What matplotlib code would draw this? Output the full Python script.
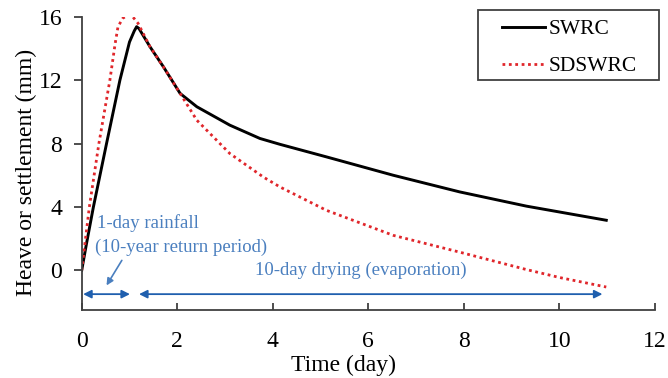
import numpy as np
import matplotlib.pyplot as plt
from matplotlib.patches import Rectangle

plt.rcParams['font.family'] = ['Liberation Serif', 'DejaVu Serif']

# SWRC curve (time in days, heave/settlement in mm)
swrc_t = [0, 0.10, 0.245, 0.52, 0.80, 1.0, 1.1, 1.15, 1.2, 1.43, 1.71, 2.06,
          2.41, 3.10, 3.73, 4.15, 5.12, 6.52, 7.91, 9.31, 10.98]
swrc_y = [0, 1.68, 4, 8, 12, 14.4, 15.1, 15.37, 15.25, 14.1, 12.84, 11.16,
          10.32, 9.16, 8.32, 7.95, 7.16, 6.0, 4.95, 4.05, 3.16]

# SDSWRC curve
sdswrc_t = [0, 0.16, 0.36, 0.59, 0.70, 0.76, 0.86, 0.95, 1.04, 1.18, 1.43,
            1.71, 2.06, 2.41, 3.10, 3.80, 4.15, 5.12, 6.52, 7.91, 9.31, 10.0,
            10.98]
sdswrc_y = [0, 4, 8, 12, 14.3, 15.37, 15.9, 16.08, 16.1, 15.58, 14.1,
            12.84, 11.16, 9.47, 7.37, 5.89, 5.26, 3.79, 2.21, 1.15, 0.05, -0.45,
            -1.05]

# Period arrows
rain_span = (0.03, 1.01)
dry_span = (1.2, 10.9)
arrow_y = -1.5

W, H = 668, 378
fig = plt.figure(figsize=(W / 100, H / 100), dpi=100)
ax = fig.add_axes([81.7 / W, 1 - 310 / H, (655 - 81.7) / W, (310 - 16.7) / H])

ax.plot(swrc_t, swrc_y, color='black', lw=2.1, label='SWRC')
ax.plot(sdswrc_t, sdswrc_y, color='#e0262b', lw=2, ls=(0, (1, 1.3)), label='SDSWRC')

ax.set_xlim(0, 12)
ax.set_ylim(-2.5, 16)
ax.set_xticks(np.arange(0, 13, 2))
ax.set_yticks(np.arange(0, 17, 4))
ax.spines['top'].set_visible(False)
ax.spines['right'].set_visible(False)
for sp in ['left', 'bottom']:
    ax.spines[sp].set_color('#404040')
    ax.spines[sp].set_linewidth(1.3)
ax.tick_params(axis='x', direction='in', length=5, width=1.3, color='#404040',
               labelsize=17, pad=15)
ax.tick_params(axis='y', direction='out', length=6, width=1.3, color='#404040',
               labelsize=17, pad=8)

ax.set_xlabel('Time (day)', fontsize=17)
ax.set_ylabel('Heave or settlement (mm)', fontsize=17)
ax.xaxis.set_label_coords(0.4567, -0.152)
ax.yaxis.set_label_coords(-0.078, 0.47)

arrow_col = '#1f5fae'
text_col = '#4a7fbf'
ax.annotate('', xy=(rain_span[0], arrow_y), xytext=(rain_span[1], arrow_y),
            arrowprops=dict(arrowstyle='<|-|>', color=arrow_col, lw=1.3,
                            mutation_scale=12, shrinkA=0, shrinkB=0))
ax.annotate('', xy=(dry_span[0], arrow_y), xytext=(dry_span[1], arrow_y),
            arrowprops=dict(arrowstyle='<|-|>', color=arrow_col, lw=1.3,
                            mutation_scale=12, shrinkA=0, shrinkB=0))
ax.annotate('', xy=(0.52, -0.95), xytext=(0.84, 0.63),
            arrowprops=dict(arrowstyle='-|>', color=text_col, lw=1.2,
                            mutation_scale=10, shrinkA=0, shrinkB=0))

ax.text(0.32, 2.97, '1-day rainfall', color=text_col, fontsize=13.5,
        ha='left', va='center')
ax.text(0.28, 1.45, '(10-year return period)', color=text_col, fontsize=13.5,
        ha='left', va='center')
ax.text(3.63, 0.0, '10-day drying (evaporation)', color=text_col, fontsize=13.5,
        ha='left', va='center')

leg = ax.legend(loc='upper left', bbox_to_anchor=(502 / W, 1 - 19 / H),
                bbox_transform=fig.transFigure, fontsize=15.5, frameon=False,
                borderpad=0, borderaxespad=0, handlelength=2.0,
                handletextpad=0.15, labelspacing=0.8)
fig.add_artist(Rectangle((478 / W, 1 - 80 / H), (659 - 478) / W, 70 / H,
                         transform=fig.transFigure, fill=False,
                         edgecolor='#404040', lw=1.3))

fig.savefig('out.png', dpi=100)
